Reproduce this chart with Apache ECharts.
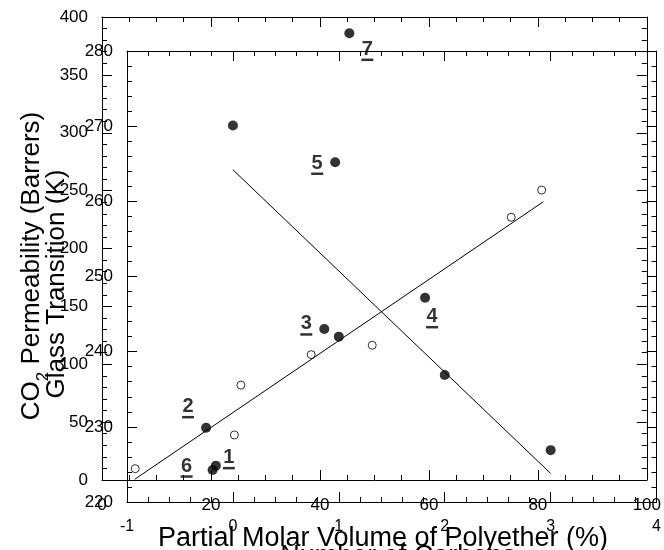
<!DOCTYPE html>
<html>
<head>
<meta charset="utf-8">
<script src="https://cdn.jsdelivr.net/npm/echarts@6/dist/echarts.min.js"></script>
<style>
  html, body { margin: 0; padding: 0; background: #fff; }
  #chart { width: 664px; height: 550px; }
</style>
</head>
<body>
<div id="chart"></div>
<script>
// CO2 permeability vs partial molar volume of polyether (open circles + fit)
const volOpen = [6.1, 24.3, 25.5, 38.4, 49.6, 75.1, 80.7];
const permOpen = [9.8, 38.9, 82, 108.3, 116.4, 227, 250.5];
const permFitVol = [6, 81];
const permFitVal = [0.6, 240.4];

// labelled polymers 1-7 (filled circles)
const polyNames = ['1', '2', '3', '4', '5', '6', '7'];
const polyVol = [20.9, 19.1, 40.8, 59.3, 42.8, 20.3, 45.4];
const polyPerm = [12.4, 45.2, 130.5, 157.5, 274.5, 8.6, 385.9];

// glass transition vs number of carbons
const carbons = [0, 1, 2, 3];
const tgK = [270.1, 242.0, 236.9, 226.9];
const tgFitC = [0, 3];
const tgFitK = [264.2, 223.8];

const FONT = '"Liberation Sans", Arial, sans-serif';
// where each polymer number sits relative to its point
const labelOffsets = {
  '1': [13, -6], '2': [-18, -19], '3': [-18, -3], '4': [7, 21],
  '5': [-18, 3], '6': [-26, -2], '7': [18, 18]
};

const chart = echarts.init(document.getElementById('chart'));

function axisBase(extra) {
  return Object.assign({
    axisLine: { show: true, onZero: false, lineStyle: { color: '#000', width: 1 } },
    axisTick: { show: true, inside: true, length: 10, lineStyle: { color: '#000' } },
    splitLine: { show: false },
    axisLabel: { color: '#000', fontSize: 17, fontFamily: FONT }
  }, extra);
}
function minor(n) {
  return { show: true, splitNumber: n, length: 5, lineStyle: { color: '#000' } };
}
function noLabels(ax) {
  ax.axisLabel = { show: false };
  return ax;
}

const option = {
  animation: false,
  backgroundColor: '#fff',
  grid: [
    { left: 102, top: 17, width: 548, height: 463 },
    { left: 127, top: 51, width: 534, height: 451 }
  ],
  xAxis: [
    axisBase({ gridIndex: 0, type: 'value', position: 'bottom', min: 0, max: 100, interval: 20,
      minorTick: minor(4),
      axisLabel: { color: '#000', fontSize: 17, fontFamily: FONT, margin: 17 } }),
    noLabels(axisBase({ gridIndex: 0, type: 'value', position: 'top', min: 0, max: 100, interval: 20,
      minorTick: minor(4) })),
    axisBase({ gridIndex: 1, type: 'value', position: 'bottom', min: -1, max: 4, interval: 1,
      minorTick: minor(5),
      axisLabel: { color: '#000', fontSize: 16, fontFamily: FONT, margin: 17 } }),
    noLabels(axisBase({ gridIndex: 1, type: 'value', position: 'top', min: -1, max: 4, interval: 1,
      minorTick: minor(5) }))
  ],
  yAxis: [
    axisBase({ gridIndex: 0, type: 'value', position: 'left', min: 0, max: 400, interval: 50,
      minorTick: minor(5),
      axisLabel: { color: '#000', fontSize: 17, fontFamily: FONT, margin: 14 } }),
    noLabels(axisBase({ gridIndex: 0, type: 'value', position: 'right', min: 0, max: 400, interval: 50,
      minorTick: minor(5) })),
    axisBase({ gridIndex: 1, type: 'value', position: 'left', min: 220, max: 280, interval: 10,
      minorTick: minor(5),
      axisLabel: { color: '#000', fontSize: 17, fontFamily: FONT, margin: 14 } }),
    noLabels(axisBase({ gridIndex: 1, type: 'value', position: 'right', min: 220, max: 280, interval: 10,
      minorTick: minor(5) }))
  ],
  series: [
    {
      name: 'perm fit', type: 'line', xAxisIndex: 0, yAxisIndex: 0,
      data: permFitVol.map((v, i) => [v, permFitVal[i]]),
      symbol: 'none', lineStyle: { color: '#000', width: 1 }
    },
    {
      name: 'perm', type: 'scatter', xAxisIndex: 0, yAxisIndex: 0,
      data: volOpen.map((v, i) => [v, permOpen[i]]),
      symbolSize: 8,
      itemStyle: { color: '#fff', borderColor: '#000', borderWidth: 1 }
    },
    {
      name: 'polymers', type: 'scatter', xAxisIndex: 0, yAxisIndex: 0,
      data: polyNames.map((n, i) => ({
        name: n, value: [polyVol[i], polyPerm[i]],
        label: { offset: labelOffsets[n] }
      })),
      symbolSize: 10,
      itemStyle: { color: '#000' },
      label: {
        show: true, position: 'inside', color: '#000',
        formatter: p => '{n|' + p.name + '}\n{u|}',
        rich: {
          n: { fontSize: 20, fontWeight: 'bold', fontFamily: FONT, color: '#000', lineHeight: 17 },
          u: { width: 12, height: 2.5, backgroundColor: '#000', lineHeight: 4 }
        }
      }
    },
    {
      name: 'tg fit', type: 'line', xAxisIndex: 2, yAxisIndex: 2,
      data: tgFitC.map((c, i) => [c, tgFitK[i]]),
      symbol: 'none', lineStyle: { color: '#000', width: 1 }
    },
    {
      name: 'tg', type: 'scatter', xAxisIndex: 2, yAxisIndex: 2,
      data: carbons.map((c, i) => [c, tgK[i]]),
      symbolSize: 10,
      itemStyle: { color: '#000' }
    }
  ],
  graphic: [
    {
      type: 'text', x: 32, y: 266, rotation: Math.PI / 2,
      style: {
        text: '{a|CO}{s|2}{a| Permeability (Barrers)}',
        align: 'center', verticalAlign: 'middle', fill: '#000',
        rich: {
          a: { fontSize: 26, fontFamily: FONT, fill: '#000', lineHeight: 28 },
          s: { fontSize: 17, fontFamily: FONT, fill: '#000', verticalAlign: 'bottom', lineHeight: 28, padding: [0, 0, -6, 0] }
        }
      }
    },
    {
      type: 'text', x: 57, y: 284, rotation: Math.PI / 2,
      style: {
        text: 'Glass Transition (K)', font: '26px ' + FONT,
        align: 'center', verticalAlign: 'middle', fill: '#000'
      }
    },
    {
      type: 'text', x: 383, y: 539,
      style: {
        text: 'Partial Molar Volume of Polyether (%)', font: '27px ' + FONT,
        align: 'center', verticalAlign: 'middle', fill: '#000'
      }
    },
    {
      type: 'text', x: 398, y: 557,
      style: {
        text: 'Number of Carbons', font: '27px ' + FONT,
        align: 'center', verticalAlign: 'middle', fill: '#000'
      }
    }
  ]
};

chart.setOption(option);
</script>
</body>
</html>
